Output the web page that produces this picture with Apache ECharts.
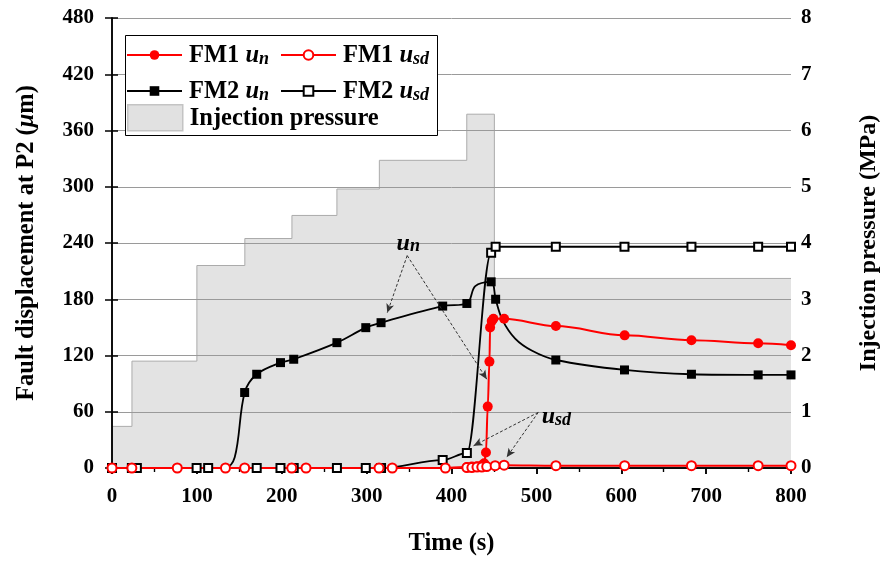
<!DOCTYPE html>
<html><head><meta charset="utf-8">
<script src="https://cdn.jsdelivr.net/npm/echarts@6/dist/echarts.min.js"></script>
<style>html,body{margin:0;padding:0;background:#fff}#c{width:889px;height:561px}</style>
</head><body><div id="c"></div>
<script>
// ---- data ----
const pressureTime = [0, 23.5, 100, 156.5, 212, 265, 315, 418, 450.5, 800];
const pressureMPa  = [0.74, 1.9, 3.6, 4.08, 4.49, 4.96, 5.47, 6.29, 3.37, 3.37];

const fm2UnTime = [0, 132.8, 144.6, 156.3, 170.5, 198.5, 214.1, 265, 299, 317, 389.6, 418.1, 428, 446.7, 452, 460, 475, 495, 522.9, 603.8, 682.7, 761.3, 800];
const fm2Un     = [0, 0, 11.4, 80.5, 100, 112.4, 116, 133.7, 149.7, 155, 172.7, 175.5, 194, 198.6, 180, 158, 138, 125, 115.2, 104.6, 100, 99.3, 99.3];
const fm2UnUnmarked = [0, 1, 2, 12, 15, 16, 17];   // curve points, no marker drawn there

const fm2UsdTime = [0, 23.4, 29.3, 99.7, 113.3, 170.5, 198.5, 214.1, 265, 299, 317, 389.6, 418.1, 446.7, 452, 522.9, 603.8, 682.7, 761.3, 800];
const fm2Usd     = [0, 0, 0, 0, 0, 0, 0, 0, 0, 0, 0, 8.5, 16, 229.5, 236, 236, 236, 236, 236, 236];

const fm1UnTime = [0, 392.8, 418.1, 424, 430, 435.7, 438.5, 440.6, 442.7, 444.7, 445.5, 447.4, 449.4, 462, 523, 604, 682.7, 761.3, 800];
const fm1Un     = [0, 0, 1, 1.5, 2, 3, 5, 16.5, 65.5, 113.5, 150, 156.7, 159.2, 159.2, 151.4, 141.5, 136.2, 133, 131];
const fm1UnUnmarked = [0, 1];

const fm1UsdTime = [0, 23.4, 76.9, 133.7, 156.3, 211.8, 228.6, 314.6, 330.2, 392.8, 418.1, 424, 430, 435.7, 441.5, 451.4, 462, 523, 604, 682.7, 761.3, 800];
const fm1Usd     = [0, 0, 0, 0, 0, 0, 0, 0, 0, 0, 0.5, 0.5, 1, 1, 1.5, 2.5, 3, 2.5, 2.5, 2.5, 2.5, 2.5];

const xTicks = {min: 0, max: 800, interval: 100};
const yLeft  = {min: 0, max: 480, interval: 60};
const yRight = {min: 0, max: 8, interval: 1};

// annotation arrows (time, displacement)
const unArrowFrom = [347.8, 226.6];
const unArrowTo = [[324.3, 165.6], [441.6, 94.7]];
const unLabelAt = [349, 240.7];
const usdArrowFrom = [502.2, 59.3];
const usdArrowTo = [[426, 23.7], [465, 11.4]];
const usdLabelAt = [523.6, 55.6];

// ---- chart ----
const F = 'Liberation Serif';
function pairs(t, v, unmarked) {
  return t.map((x, i) => (unmarked && unmarked.indexOf(i) >= 0) ? {value: [x, v[i]], symbol: 'none'} : [x, v[i]]);
}
const richBase = {fontFamily: F, fontWeight: 'bold', color: '#000'};
const legendRich = {
  b: Object.assign({}, richBase, {fontSize: 24.5, lineHeight: 26, verticalAlign: 'bottom'}),
  i: Object.assign({}, richBase, {fontSize: 24.5, fontStyle: 'italic', lineHeight: 26, verticalAlign: 'bottom'}),
  s: Object.assign({}, richBase, {fontSize: 18, fontStyle: 'italic', lineHeight: 18, verticalAlign: 'bottom'})
};
const legendLabels = {
  'FM1 un': '{b|FM1 }{i|u}{s|n}',
  'FM1 usd': '{b|FM1 }{i|u}{s|sd}',
  'FM2 un': '{b|FM2 }{i|u}{s|n}',
  'FM2 usd': '{b|FM2 }{i|u}{s|sd}',
  'Injection pressure': '{b|Injection pressure}'
};
function legendCfg(left, top, names, iw, ih) {
  return {
    left: left, top: top, orient: 'vertical', padding: 0, itemGap: 11,
    itemWidth: iw, itemHeight: ih, data: names, selectedMode: false,
    formatter: n => legendLabels[n],
    textStyle: {fontFamily: F, fontWeight: 'bold', fontSize: 24.5, color: '#000', rich: legendRich, padding: [0, 0, 0, 2]}
  };
}
const annoRich = {
  u: {fontFamily: F, fontWeight: 'bold', fontStyle: 'italic', fontSize: 24, lineHeight: 26, verticalAlign: 'bottom', color: '#000'},
  n: {fontFamily: F, fontWeight: 'bold', fontStyle: 'italic', fontSize: 18, lineHeight: 18, verticalAlign: 'bottom', color: '#000'}
};

const axisFont = {fontFamily: F, fontWeight: 'bold', fontSize: 21, color: '#000'};
const nameFont = {fontFamily: F, fontWeight: 'bold', fontSize: 24.5, color: '#000'};
const axisLine = {show: true, lineStyle: {color: '#000', width: 1.5}};

const chart = echarts.init(document.getElementById('c'), null, {renderer: 'canvas'});
chart.setOption({
  animation: false,
  backgroundColor: '#fff',
  grid: {left: 112, right: 95, top: 18, bottom: 92},
  xAxis: [{
    type: 'value', min: xTicks.min, max: xTicks.max, interval: xTicks.interval, position: 'bottom', z: 1,
    axisLine: axisLine, axisTick: {show: true, inside: false, length: 6, lineStyle: {color: '#000', width: 1.5}},
    minorTick: {show: true, splitNumber: 2, length: 4, lineStyle: {color: '#000', width: 1.2}},
    axisLabel: Object.assign({margin: 18}, axisFont),
    splitLine: {show: false},
    name: 'Time (s)', nameLocation: 'middle', nameGap: 63, nameTextStyle: nameFont
  }, {
    type: 'value', min: xTicks.min, max: xTicks.max, interval: xTicks.interval, position: 'top', z: 1,
    axisLine: axisLine, axisTick: {show: true, inside: true, length: 6, lineStyle: {color: '#000', width: 1.5}},
    minorTick: {show: true, splitNumber: 2, length: 4, lineStyle: {color: '#000', width: 1.2}},
    axisLabel: {show: false}, splitLine: {show: false}
  }],
  yAxis: [{
    type: 'value', min: yLeft.min, max: yLeft.max, interval: yLeft.interval, position: 'left', z: 1,
    axisLine: axisLine, axisTick: {show: true, inside: false, length: 7, lineStyle: {color: '#000', width: 1.5}},
    axisLabel: Object.assign({margin: 18}, axisFont),
    splitLine: {show: true, lineStyle: {color: '#9a9a9a', width: 1}},
    name: '{a|Fault displacement at P2 (}{i|μ}{a|m)}', nameLocation: 'middle', nameRotate: 90, nameGap: 73,
    nameTextStyle: Object.assign({}, nameFont, {
      rich: {
        a: Object.assign({}, nameFont),
        i: Object.assign({}, nameFont, {fontStyle: 'italic'})
      }
    })
  }, {
    type: 'value', min: yRight.min, max: yRight.max, interval: yRight.interval, position: 'right', z: 1,
    axisLine: axisLine, axisTick: {show: true, inside: false, length: 6, lineStyle: {color: '#000', width: 1.5}},
    axisLabel: Object.assign({margin: 10}, axisFont),
    splitLine: {show: false},
    name: 'Injection pressure (MPa)', nameLocation: 'middle', nameRotate: 90, nameGap: 66,
    nameTextStyle: Object.assign({}, nameFont, {fontSize: 24})
  }],
  legend: [
    legendCfg(126, 43, ['FM1 un', 'FM2 un'], 55, 12),
    legendCfg(280, 43, ['FM1 usd', 'FM2 usd'], 55, 12),
    legendCfg(127, 104, [{name: 'Injection pressure', icon: 'rect', itemStyle: {color: '#e1e1e1', borderColor: '#c4c4c4', borderWidth: 1.5}}], 55, 26)
  ],
  graphic: [{
    type: 'rect', z: 3, silent: true,
    shape: {x: 125.5, y: 35.5, width: 312, height: 100},
    style: {fill: '#fff', stroke: '#000', lineWidth: 1}
  }],
  series: [{
    name: 'Injection pressure', type: 'line', yAxisIndex: 1, step: 'end', z: 0, silent: true,
    data: pairs(pressureTime, pressureMPa), symbol: 'none',
    lineStyle: {color: '#ababab', width: 1}, itemStyle: {color: '#e1e1e1'},
    areaStyle: {color: '#e3e3e3', opacity: 1}
  }, {
    name: 'FM2 un', type: 'line', z: 2, smooth: 0.35,
    data: pairs(fm2UnTime, fm2Un, fm2UnUnmarked),
    symbol: 'rect', symbolSize: 9,
    lineStyle: {color: '#000', width: 1.8}, itemStyle: {color: '#000'},
    markLine: {
      silent: true, symbol: ['none', 'arrow'], symbolSize: [6, 9], label: {show: false},
      lineStyle: {color: '#333', width: 1, type: [3, 2]},
      data: unArrowTo.map(p => [{coord: unArrowFrom}, {coord: p}])
        .concat(usdArrowTo.map(p => [{coord: usdArrowFrom}, {coord: p}]))
    },
    markPoint: {
      silent: true, symbol: 'circle', symbolSize: 0,
      label: {show: true, position: 'inside', rich: annoRich},
      data: [
        {coord: unLabelAt, label: {formatter: '{u|u}{n|n}'}},
        {coord: usdLabelAt, label: {formatter: '{u|u}{n|sd}'}}
      ]
    }
  }, {
    name: 'FM2 usd', type: 'line', z: 2, smooth: 0.35, smoothMonotone: 'x',
    data: pairs(fm2UsdTime, fm2Usd),
    symbol: 'emptyRect', symbolSize: 8,
    lineStyle: {color: '#000', width: 1.8}, itemStyle: {color: '#000', borderWidth: 1.3}
  }, {
    name: 'FM1 un', type: 'line', z: 2, smooth: 0.35, smoothMonotone: 'x',
    data: pairs(fm1UnTime, fm1Un, fm1UnUnmarked),
    symbol: 'circle', symbolSize: 10,
    lineStyle: {color: '#f00', width: 2}, itemStyle: {color: '#f00'}
  }, {
    name: 'FM1 usd', type: 'line', z: 2, smooth: 0.35, smoothMonotone: 'x',
    data: pairs(fm1UsdTime, fm1Usd),
    symbol: 'emptyCircle', symbolSize: 9,
    lineStyle: {color: '#f00', width: 2}, itemStyle: {color: '#f00', borderWidth: 1.5}
  }]
});
</script></body></html>
